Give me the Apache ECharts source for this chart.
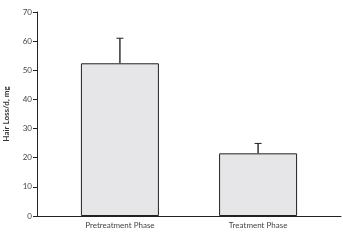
<!DOCTYPE html>
<html><head><meta charset="utf-8">
<script src="https://cdn.jsdelivr.net/npm/echarts@6/dist/echarts.min.js"></script>
<style>html,body{margin:0;padding:0;background:#fff}#c{width:343px;height:243px}</style>
</head><body><div id="c"></div>
<script>
var categories = ['Pretreatment Phase', 'Treatment Phase'];
var means = [52.4, 21.5];
var errorTops = [61.0, 24.9];
var yTicks = [0, 10, 20, 30, 40, 50, 60, 70];

var positions = categories.map(function (c, i) { return i; });
var barData = means.map(function (v, i) { return [positions[i], v]; });
var errData = means.map(function (v, i) { return [positions[i], v, errorTops[i]]; });

var chart = echarts.init(document.getElementById('c'), null, {renderer: 'canvas'});
var font = 'Lato, "Open Sans", sans-serif';
chart.setOption({
  animation: false,
  grid: {left: 37, right: 2, top: 12, bottom: 27, containLabel: false, outerBoundsMode: 'none'},
  xAxis: {
    type: 'value', min: -0.6, max: 1.6,
    splitLine: {show: false},
    axisLine: {show: true, onZero: false, lineStyle: {color: '#222', width: 1}},
    axisTick: {show: false},
    axisLabel: {
      customValues: positions,
      formatter: function (v) { var i = Math.round(v); return categories[i] || ''; },
      color: '#444', fontSize: 8, fontFamily: font, margin: 5
    }
  },
  yAxis: {
    type: 'value', min: 0, max: 70, interval: 10,
    name: 'Hair Loss/d, mg', nameLocation: 'middle', nameGap: 27,
    nameTextStyle: {fontSize: 8, fontWeight: 'bold', color: '#333', fontFamily: font},
    splitLine: {show: false},
    axisLine: {show: true, onZero: false, lineStyle: {color: '#222', width: 1}},
    axisTick: {show: true, length: 4, lineStyle: {color: '#222'}},
    axisLabel: {
      formatter: function (v) { return yTicks.indexOf(v) >= 0 ? String(v) : ''; },
      color: '#444', fontSize: 8, fontFamily: font, margin: 5
    }
  },
  series: [{
    type: 'bar', data: barData, barWidth: 78,
    itemStyle: {color: '#e6e6e8', borderColor: '#222', borderWidth: 1}
  }, {
    type: 'custom', data: errData,
    renderItem: function (params, api) {
      var x = api.value(0);
      var b = api.coord([x, api.value(1)]);
      var t = api.coord([x, api.value(2)]);
      return {type: 'group', children: [
        {type: 'line', shape: {x1: b[0], y1: b[1], x2: t[0], y2: t[1]}, style: {stroke: '#333', lineWidth: 1.5}},
        {type: 'line', shape: {x1: t[0] - 3.5, y1: t[1], x2: t[0] + 3.5, y2: t[1]}, style: {stroke: '#222', lineWidth: 1}}
      ]};
    },
    z: 3
  }]
});
</script></body></html>
